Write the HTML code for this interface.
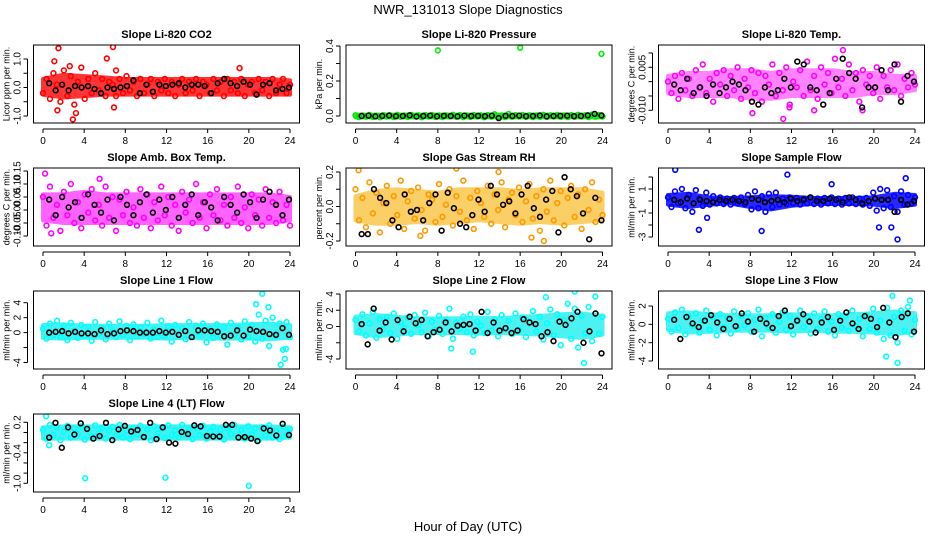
<!DOCTYPE html>
<html><head><meta charset="utf-8"><style>
html,body{margin:0;padding:0;background:#fff;}
svg{display:block;font-family:"Liberation Sans",Arial,sans-serif;}
</style></head><body>
<svg id="chart" width="936" height="540" viewBox="0 0 936 540" xmlns="http://www.w3.org/2000/svg">
<text x="468" y="14" text-anchor="middle" font-size="13">NWR_131013  Slope Diagnostics</text>
<text x="468" y="531" text-anchor="middle" font-size="13">Hour of Day (UTC)</text>
</svg>
<script>
// ---- data ----
const xTicks = [0,4,8,12,16,20,24];
const bandHours = [0,2,4,6,8,10,12,14,16,18,20,22,24];

const co2Main = [-.2,.3,-.4,.5,.1,-.5,.6,-.3,.4,-.6,.2,.7,-.4,.3,-.2,.5,-.1,.3,-.3,.2,.1,-.3,.3,-.2,.4,-.1,.2,-.3,.3,-.2,.1,.3,-.3,.2,-.1,.3,-.2,.2,-.3,.1,.3,-.2,.2,-.1,.3,-.3,.2,.1,-.2,.3,-.1,.2,-.3,.3,-.1,.2,-.2,.3,-.3,.1,.2,-.2,.3,-.1,.2,-.3,.3,-.2,.1,.3,-.2,.1];
const co2Black = [.15,-.1,.1,-.1,.05,0,.05,-.05,-.2,0,-.05,0,.05,.25,-.2,.1,-.15,.1,.05,.1,.15,0,.1,.1,.05,-.2,.15,.3,.15,.05,.2,.1,-.25,.1,.15,-.1,-.05,0];
const co2OutX = [1.5,6.8,1.1,6.2,2.9,3.2,1.4,6.9,19.1,2.6,7.1];
const co2OutY = [1.38,1.42,.92,1.02,-1.12,-.9,-.8,-.7,.68,.75,.6];
const co2BandHi = [.3,.45,.4,.35,.3,.3,.3,.3,.3,.3,.3,.3,.25];
const co2BandLo = [-.25,-.35,-.3,-.25,-.25,-.25,-.25,-.25,-.25,-.25,-.25,-.25,-.25];

const presMain = [.004,-.006,.003,-.004,.006,-.005,.002,-.007,.005,-.003,.004,-.006,.007,-.004,.003,-.005,.006,-.002,.004,-.007,.005,-.003,.006,-.005,.003,-.006,.004,-.002,.007,-.004,.005,-.006,.003,-.005,.006,-.003,.004,-.007,.005,-.004,.010,-.005,.003,-.006,.012,-.004,.005,-.003,.006,-.005,.004,-.006,.003,-.004,.007,-.005,.004,-.003,.006,-.005,.003,-.006,.005,-.004,.007,-.003,.004,-.006,.008,-.004,.005,-.003];
const presBlack = [0,.002,-.002,0,.003,-.001,0,.004,-.003,0,.002,-.002,.001,0,-.002,.002,0,.001,-.001,.002,-.012,.001,0,.002,-.001,0,.003,-.002,0,.001,.002,-.001,0,.004,.012,.003];
const presOutX = [8,16,23.9];
const presOutY = [.375,.39,.355];
const presBandHi = [.008,.008,.008,.008,.008,.008,.008,.008,.008,.008,.008,.008,.008];
const presBandLo = [-.008,-.008,-.008,-.008,-.008,-.008,-.008,-.008,-.008,-.008,-.008,-.008,-.008];

const tempMain = [.000,-.004,.002,-.006,.003,-.003,.001,-.005,.004,-.002,.006,-.004,.001,-.007,.003,-.001,.004,-.005,.002,-.003,.005,-.006,.001,-.002,.004,-.004,.003,-.007,.002,-.001,.006,-.005,.003,-.003,.005,-.008,.000,-.002,.004,-.005,.007,-.003,.002,-.006,.005,-.001,.003,-.004,.008,-.002,.001,-.005,.006,-.003,.003,-.007,.004,-.001,.002,-.004,.005,-.006,.002,-.002,.004,-.003,.006,-.005,.001,-.002,.003,-.001];
const tempBlack = [-.001,-.003,.001,-.004,-.002,-.005,-.001,-.004,-.002,.000,-.001,-.003,-.007,-.008,-.002,-.004,-.003,.001,-.002,.007,.006,-.002,-.003,-.008,-.004,.001,.008,.003,.001,-.009,-.002,-.002,.004,-.003,.006,-.007,.002,.000];
const tempOutX = [11.2,8.2,11.8,17,14.2,18.9];
const tempOutY = [-.013,-.011,-.009,.011,-.010,-.010];
const tempBandHi = [.002,.003,.003,.004,.004,.003,.004,.004,.004,.003,.003,.002,.002];
const tempBandLo = [-.004,-.005,-.005,-.005,-.006,-.006,-.005,-.005,-.005,-.005,-.004,-.004,-.003];

const ambMain = [.05,-.06,.09,-.03,.02,-.08,.07,-.02,.1,-.05,.03,-.07,.06,-.01,.08,-.04,.02,-.06,.09,-.03,.05,-.08,.04,-.02,.07,-.05,.01,-.06,.08,-.03,.06,-.07,.03,-.04,.09,-.02,.05,-.06,.02,-.08,.07,-.01,.04,-.05,.1,-.03,.03,-.07,.06,-.02,.08,-.04,.02,-.06,.05,-.03,.09,-.05,.01,-.07,.06,-.02,.04,-.06,.08,-.03,.03,-.05,.07,-.04,.02,-.06];
const ambBlack = [.04,-.02,.05,.01,.03,-.03,.06,.02,-.01,.04,-.04,.05,.02,-.02,.03,.06,-.01,.04,.00,.05,-.03,.02,.06,-.02,.03,.01,-.04,.05,.02,-.01,.06,.03,-.03,.04,.07,.02,-.02,.04];
const ambOutX = [12.2,0.2,0.8,5.5];
const ambOutY = [-.15,.14,-.09,.12];
const ambBandHi = [.06,.06,.07,.06,.06,.06,.06,.06,.06,.06,.06,.06,.05];
const ambBandLo = [-.04,-.05,-.05,-.05,-.05,-.05,-.05,-.05,-.05,-.05,-.05,-.05,-.04];

const rhMain = [.1,-.08,.05,-.12,.14,-.04,.08,-.15,.02,.12,-.1,.06,-.05,.15,-.13,.03,.09,-.07,.11,-.02,-.14,.07,.04,-.09,.13,-.06,.01,.1,-.11,.06,-.03,.15,-.08,.05,-.13,.09,.02,-.06,.12,-.1,.07,-.02,.14,-.12,.04,.08,-.05,.11,-.09,.03,.13,-.07,.06,-.14,.1,-.03,.15,-.08,.02,.09,-.11,.05,.12,-.06,.07,-.13,.1,-.02,.14,-.09,.04,-.05];
const rhBlack = [-.16,-.16,.1,.05,.02,-.08,-.12,.07,-.03,-.02,-.08,.02,.07,-.14,.08,-.01,-.1,-.12,-.05,.04,-.03,.12,.07,.01,.03,-.04,.07,.12,-.01,-.06,.04,.09,-.15,.17,.1,.06,-.04,-.19,.05,-.08];
const rhOutX = [0.3,9.8,17.1,18.3,6.3,13.9];
const rhOutY = [.21,.22,-.18,-.2,-.17,.2];
const rhBandHi = [.06,.09,.1,.09,.08,.1,.1,.1,.09,.1,.1,.1,.08];
const rhBandLo = [-.08,-.1,-.1,-.09,-.1,-.09,-.08,-.09,-.1,-.09,-.1,-.09,-.08];

const sfMain = [.3,-.5,.8,-.2,1,-.6,.5,-.9,.9,.2,-.4,.7,-.3,.4,-.2,.3,-.25,.2,-.3,.25,-.2,.3,-.25,.5,-.7,.8,-.6,.4,-.9,.6,-.5,.7,-.3,.2,-.25,.3,-.2,.25,-.3,.2,-.2,.3,-.25,.2,-.3,.25,-.2,.3,-.25,.2,-.3,.25,-.2,.3,-.25,.2,-.3,.25,-.4,.7,-.8,1,-.6,.9,-.5,.4,-.9,.8,-.3,.5,-.2,.3];
const sfBlack = [.1,-.1,.2,-.2,.1,.0,-.1,.1,.0,.1,.0,-.1,.2,.1,-.1,.0,.1,-.1,.2,.0,.1,.3,.0,.0,.2,.1,-.1,.3,.1,-.2,.0,.2,.1,.1,-.9,.1,-.3,.0];
const sfOutX = [0.7,11.6,3,9.1,22.3,21.7,20.5,23.1,15.9,3.8];
const sfOutY = [2.6,2.2,-2.4,-2.5,-3.2,-2.2,-2.2,1.9,1.4,-1.4];
const sfBandHi = [.5,.6,.3,.25,.3,.4,.35,.25,.25,.25,.3,.6,.5];
const sfBandLo = [-.3,-.5,-.3,-.2,-.5,-.7,-.4,-.25,-.25,-.25,-.3,-.5,-.3];

const l1Main = [.5,-.8,1.2,-.3,1.6,-.6,.9,-1,1.3,.2,-.7,1,-.4,.8,-1.1,1.4,-.2,.6,-.9,1.2,.3,-.6,1.5,-.3,.9,-1,1.1,-.5,.7,-.2,1.3,-.8,.4,-.6,1.6,-.4,.8,-1.2,1,-.3,.6,-.9,1.4,-.5,.9,-.2,1.2,-1.3,.5,-.7,1.1,-.4,.8,-1.6,1.3,-.3,.7,-.9,1.5,-.6,1,-1.2,2.4,-.8,1.6,-1.8,2,-.5,1.2,-2.3,1.4,-.6];
const l1Black = [0,.1,.2,-.1,.1,-.1,-.1,-.2,.3,-.2,-.1,.2,.3,.2,0,0,0,.2,0,.1,-.3,.2,-.6,.3,.3,.2,.1,-.5,-.4,.3,-.4,.4,.2,.1,-.2,-.3,.6,-.3];
const l1OutX = [21.3,20.7,23.1,23.5,21.9,23.6];
const l1OutY = [5.2,3.8,-4.3,-3.5,3.4,-2.2];
const l1BandHi = [1,1.1,.9,.9,.9,.9,1,1,1,1,1.1,1.2,1];
const l1BandLo = [-.7,-.8,-.7,-.7,-.7,-.7,-.8,-.7,-.8,-.8,-.8,-.9,-.7];

const l2Main = [.8,-.6,1.5,-1.1,.4,1.8,-1.4,.9,-.3,1.2,-.8,1.6,-1.5,.5,-.2,1.1,-.9,1.4,.2,-.7,1.7,-1.2,.6,-.4,1.3,-.9,.8,2.2,-1.5,.5,-.3,1.2,-.7,1.5,-1.1,.6,.1,-.8,1.8,-.5,.9,-1.2,1.4,-.3,.7,-.9,1.6,-.4,1.1,-1.3,.6,1.9,-.6,1.2,-1.6,.4,2.1,-1.1,1.5,-2.3,.8,2.8,-1.5,2.2,-2.6,1.3,-.8,2.4,-1.8,1.6,-.9,1.2];
const l2Black = [.3,-2.2,2.2,-.5,.5,-1.6,.8,-.6,1.2,.4,.8,-1.2,-.7,-.4,.5,-.6,.1,.2,.3,-.5,1.8,-.8,.5,-.5,-.2,-.8,-.5,.9,.5,.3,-1.2,-.7,-1.8,.6,.2,1,1.8,-2,-.6,1.6,-3.3];
const l2OutX = [21.3,22.2,11.4,9.3,23.3,18.5];
const l2OutY = [4.3,-4.5,-3.1,-2.7,3.7,3.6];
const l2BandHi = [1.2,1.4,1.2,1,1,1,1.1,1,1.2,1.3,1.5,1.6,1.3];
const l2BandLo = [-.8,-1.2,-1,-.8,-.8,-.8,-.9,-.8,-.9,-1,-1.2,-1.4,-1];

const l3Main = [.6,-.8,1.3,-.4,1.6,-1.1,.9,-.2,1.2,-.9,.4,1.5,-.6,.8,-1.2,1.1,-.3,.7,-1,1.4,-.5,.9,-.1,1.2,-.8,.5,1.6,-1.3,.7,-.4,1.1,-.9,.3,1.3,-.6,.9,-1.1,.5,1.5,-.3,.8,-1,1.2,-.5,.6,1.4,-.8,.3,-1.2,1.1,-.4,.9,-.7,1.5,-.2,.6,-1.3,1,-.5,1.7,-.9,.4,-1.6,1.8,-1.2,.8,-2,1.5,-.7,1.9,-1.1,.5];
const l3Black = [.5,-1.6,.8,.1,-.3,.4,1,.2,-.5,.6,-.2,1.2,.3,-.8,.6,.1,-.4,.9,1.5,-.2,.4,1.1,.3,-.9,.2,.8,-.6,.4,1.3,.1,-.5,.9,.6,-.3,1.8,.2,-1.4,.8,1.2,-.8];
const l3OutX = [21.8,22.3,21.2,23.5];
const l3OutY = [3.1,-4.2,-3.5,2.6];
const l3BandHi = [1.2,1.3,1.1,1,1,1,1.1,1,1,1.1,1.2,1.4,1.2];
const l3BandLo = [-.6,-.9,-.8,-.7,-.7,-.7,-.8,-.7,-.8,-.8,-.9,-1.1,-.8];

const l4Main = [.05,-.12,.15,-.05,.1,-.15,.02,.13,-.1,.08,-.03,.12,-.14,.06,-.08,.14,-.02,.09,-.12,.04,.11,-.06,.15,-.1,.03,-.13,.08,-.04,.13,-.09,.06,-.15,.12,-.02,.09,-.11,.14,-.06,.04,-.1,.15,-.03,.07,-.13,.1,-.05,.13,-.12,.02,.11,-.08,.06,-.14,.09,-.03,.15,-.09,.05,-.12,.12,-.04,.08,-.15,.1,-.06,.14,-.1,.03,-.13,.11,-.05,.07];
const l4Black = [-.1,.19,-.3,.1,-.04,.18,.07,-.12,-.07,.19,-.15,.06,.13,.02,.05,-.09,.19,-.13,.1,-.2,-.22,.01,-.03,.14,.12,-.07,-.08,-.08,.15,.15,-.1,-.09,-.12,-.17,.08,.04,-.06,.17,-.05];
const l4OutX = [4.1,11.9,20,0.3,0.6];
const l4OutY = [-.9,-.89,-1.05,.32,-.25];
const l4BandHi = [.1,.12,.12,.12,.12,.12,.12,.12,.12,.12,.12,.12,.1];
const l4BandLo = [-.12,-.12,-.12,-.12,-.12,-.12,-.12,-.12,-.12,-.12,-.12,-.12,-.1];

// ---- layout ----
const svg = document.getElementById('chart');
const NS = 'http://www.w3.org/2000/svg';
const colLeft = [33.5, 346, 658.5];
const rowTop = [45, 168, 291, 414];
const boxW = 266, boxH = 78, xPad = 9.5;

const panels = [
 {name:'co2',title:'Slope Li-820 CO2',ylab:'Licor ppm per min.',col:0,row:0,color:'#ff0000',bandColor:'#ff2020',op:.9,main:co2Main,black:co2Black,ox:co2OutX,oy:co2OutY,hi:co2BandHi,lo:co2BandLo,ref:[1,59,-1,116],ticks:[-1,-.5,0,.5,1],labels:[[-1,'-1.0'],[0,'0.0'],[1,'1.0']]},
 {name:'pressure',title:'Slope Li-820 Pressure',ylab:'kPa per min.',col:1,row:0,color:'#00ee00',bandColor:'#30d030',op:.9,main:presMain,black:presBlack,ox:presOutX,oy:presOutY,hi:presBandHi,lo:presBandLo,ref:[.4,46,0,116],ticks:[0,.1,.2,.3,.4],labels:[[0,'0.0'],[.2,'0.2'],[.4,'0.4']]},
 {name:'temp',title:'Slope Li-820 Temp.',ylab:'degrees C per min.',col:2,row:0,color:'#ff00ff',bandColor:'#ff30ff',op:.6,main:tempMain,black:tempBlack,ox:tempOutX,oy:tempOutY,hi:tempBandHi,lo:tempBandLo,ref:[.005,67.3,-.01,110.3],ticks:[.01,.005,0,-.005,-.01],labels:[[.005,'0.005'],[-.01,'-0.010']]},
 {name:'amb-box-temp',title:'Slope Amb. Box Temp.',ylab:'degrees C per min.',col:0,row:1,color:'#ff00ff',bandColor:'#ff30ff',op:.75,main:ambMain,black:ambBlack,ox:ambOutX,oy:ambOutY,hi:ambBandHi,lo:ambBandLo,ref:[.15,171,-.1,236],ticks:[-.1,-.05,0,.05,.1,.15],labels:[[-.1,'-0.10'],[-.05,'-0.05'],[0,'0.00'],[.05,'0.05'],[.1,'0.10'],[.15,'0.15']]},
 {name:'gas-stream-rh',title:'Slope Gas Stream RH',ylab:'percent per min.',col:1,row:1,color:'#ff9900',bandColor:'#f7b000',op:.6,main:rhMain,black:rhBlack,ox:rhOutX,oy:rhOutY,hi:rhBandHi,lo:rhBandLo,ref:[.2,172,-.2,241],ticks:[-.2,-.1,0,.1,.2],labels:[[-.2,'-0.2'],[0,'0.0'],[.2,'0.2']]},
 {name:'sample-flow',title:'Slope Sample Flow',ylab:'ml/min per min.',col:2,row:1,color:'#0000ff',bandColor:'#1010ff',op:.9,main:sfMain,black:sfBlack,ox:sfOutX,oy:sfOutY,hi:sfBandHi,lo:sfBandLo,ref:[1,189,-3,237],ticks:[2,1,0,-1,-2,-3],labels:[[1,'1'],[-1,'-1'],[-3,'-3']]},
 {name:'line1-flow',title:'Slope Line 1 Flow',ylab:'ml/min per min.',col:0,row:2,color:'#00ffff',bandColor:'#20f0f0',op:.85,main:l1Main,black:l1Black,ox:l1OutX,oy:l1OutY,hi:l1BandHi,lo:l1BandLo,ref:[4,302.7,-4,362.5],ticks:[4,2,0,-2,-4],labels:[[4,'4'],[2,'2'],[0,'0'],[-4,'-4']]},
 {name:'line2-flow',title:'Slope Line 2 Flow',ylab:'ml/min per min.',col:1,row:2,color:'#00ffff',bandColor:'#20f0f0',op:.8,main:l2Main,black:l2Black,ox:l2OutX,oy:l2OutY,hi:l2BandHi,lo:l2BandLo,ref:[4,294,-4,359],ticks:[4,2,0,-2,-4],labels:[[4,'4'],[2,'2'],[0,'0'],[-4,'-4']]},
 {name:'line3-flow',title:'Slope Line 3 Flow',ylab:'ml/min per min.',col:2,row:2,color:'#00ffff',bandColor:'#20f0f0',op:.8,main:l3Main,black:l3Black,ox:l3OutX,oy:l3OutY,hi:l3BandHi,lo:l3BandLo,ref:[2,306,-4,361],ticks:[2,0,-2,-4],labels:[[2,'2'],[0,'0'],[-2,'-2'],[-4,'-4']]},
 {name:'line4-flow',title:'Slope Line 4 (LT) Flow',ylab:'ml/min per min.',col:0,row:3,color:'#00ffff',bandColor:'#20f0f0',op:.85,main:l4Main,black:l4Black,ox:l4OutX,oy:l4OutY,hi:l4BandHi,lo:l4BandLo,ref:[.2,422.3,-1,483.3],ticks:[.2,0,-.2,-.4,-.6,-.8,-1],labels:[[.2,'0.2'],[-.4,'-0.4'],[-1,'-1.0']]}
];

function mk(tag, attrs, parent){
  const e = document.createElementNS(NS, tag);
  for (const k in attrs) e.setAttribute(k, attrs[k]);
  parent.appendChild(e);
  return e;
}

panels.forEach(p => {
  const left = colLeft[p.col], top = rowTop[p.row];
  const xScale = h => left + xPad + (h / 24) * (boxW - 2 * xPad);
  const [v1, p1, v2, p2] = p.ref;
  const yScale = v => p1 + (v - v1) * (p2 - p1) / (v2 - v1);

  const g = mk('g', {}, svg);
  
  

  const t = mk('text', {x: left + boxW / 2, y: top - 7, 'text-anchor': 'middle', 'font-size': 11, 'font-weight': 'bold'}, g);
  
  
  t.textContent = p.title;

  const clipId = 'clip-' + p.name;
  const cp = mk('clipPath', {id: clipId}, g);
  mk('rect', {x: left, y: top, width: boxW, height: boxH}, cp);

  const pts = mk('g', {'clip-path': 'url(#' + clipId + ')'}, g);
  
  

  let d = '';
  bandHours.forEach((h, i) => { d += (i ? 'L' : 'M') + xScale(h).toFixed(1) + ',' + yScale(p.hi[i]).toFixed(1); });
  for (let i = bandHours.length - 1; i >= 0; i--) d += 'L' + xScale(bandHours[i]).toFixed(1) + ',' + yScale(p.lo[i]).toFixed(1);
  d += 'Z';
  const band = mk('path', {d: d, fill: p.bandColor, stroke: p.bandColor, 'stroke-width': 4, 'stroke-linejoin': 'round', opacity: p.op}, pts);
  
  

  const drawPt = (h, v, color, nm) => {
    const c = mk('circle', {cx: xScale(h), cy: yScale(v), r: 2.4, fill: 'none', stroke: color, 'stroke-width': 1.6}, pts);
    
    
  };
  p.main.forEach((v, i) => drawPt(24 * i / (p.main.length - 1), v, p.color, p.name + '-point'));
  p.ox.forEach((h, i) => drawPt(h, p.oy[i], p.color, p.name + '-outlier'));
  p.black.forEach((v, i) => drawPt(0.6 + 23.3 * i / (p.black.length - 1), v, '#000', p.name + '-mean-point'));

  const box = mk('rect', {x: left, y: top, width: boxW, height: boxH, fill: 'none', stroke: '#000', 'stroke-width': 1}, g);
  
  

  const xa = mk('g', {}, g);
  
  
  const by = top + boxH;
  mk('line', {x1: xScale(xTicks[0]), x2: xScale(xTicks[xTicks.length - 1]), y1: by + 6, y2: by + 6, stroke: '#000'}, xa);
  xTicks.forEach(h => {
    mk('line', {x1: xScale(h), x2: xScale(h), y1: by + 6, y2: by + 10, stroke: '#000'}, xa);
    const tl = mk('text', {x: xScale(h), y: by + 21, 'text-anchor': 'middle', 'font-size': 10}, xa);
    
    
    tl.textContent = h;
  });

  const ya = mk('g', {}, g);
  
  
  const ax = left - 6;
  const tv = p.ticks.map(yScale);
  mk('line', {x1: ax, x2: ax, y1: Math.min(...tv), y2: Math.max(...tv), stroke: '#000'}, ya);
  p.ticks.forEach(v => mk('line', {x1: ax - 4, x2: ax, y1: yScale(v), y2: yScale(v), stroke: '#000'}, ya));
  p.labels.forEach(([v, s]) => {
    const yy = yScale(v);
    const tl = mk('text', {x: 0, y: 0, 'text-anchor': 'middle', 'font-size': 10, transform: 'translate(' + (ax - 7) + ',' + yy + ') rotate(-90)'}, ya);
    
    
    tl.textContent = s;
  });
  const yl = mk('text', {x: 0, y: 0, 'text-anchor': 'middle', 'font-size': 9, transform: 'translate(' + (left - 24) + ',' + (top + boxH / 2) + ') rotate(-90)'}, ya);
  
  
  yl.textContent = p.ylab;
});
</script>
</body></html>
